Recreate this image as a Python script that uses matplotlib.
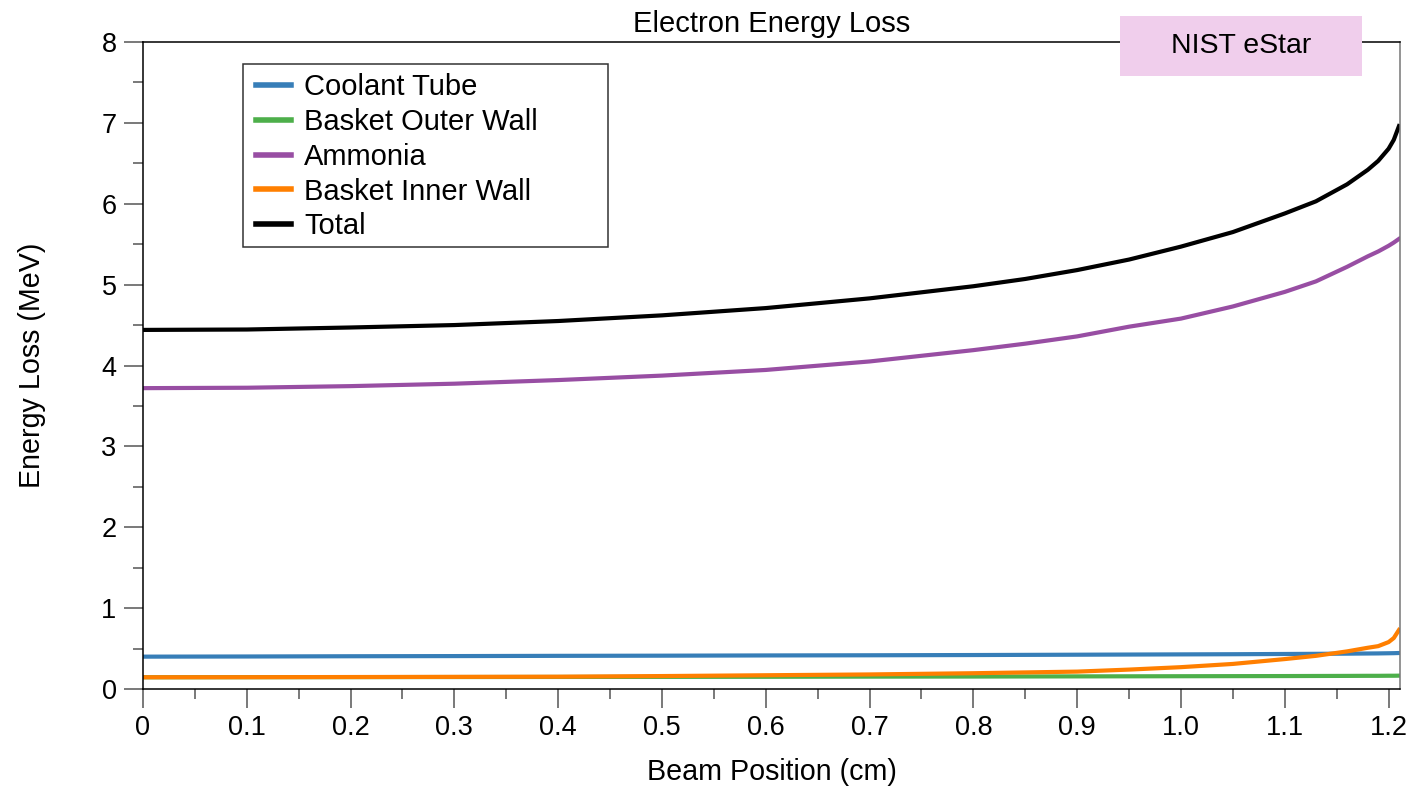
""" ELECTRON ENERGY LOSS
    --------------------
    Energy loss of the electron beam in each target layer (NIST eStar).
"""


# -------------------------------------------------------------------------------
# 0. IMPORT LIBRARIES
# -------------------------------------------------------------------------------


import matplotlib
matplotlib.use('Agg')
import matplotlib.pyplot as plt
from matplotlib.patches import Rectangle
from matplotlib.ticker import MultipleLocator


# -------------------------------------------------------------------------------
# 1. DATA
# -------------------------------------------------------------------------------


position = [0.0, 0.1, 0.2, 0.3, 0.4, 0.5, 0.6, 0.7, 0.8, 0.85, 0.9, 0.95,
            1.0, 1.05, 1.1, 1.13, 1.16, 1.18, 1.19, 1.2, 1.205, 1.21]

coolant_tube = [0.400, 0.402, 0.405, 0.407, 0.410, 0.412, 0.415, 0.417, 0.420, 0.422, 0.424, 0.426,
                0.428, 0.430, 0.433, 0.435, 0.437, 0.439, 0.440, 0.442, 0.443, 0.445]

basket_outer = [0.145, 0.146, 0.147, 0.148, 0.149, 0.150, 0.151, 0.153, 0.154, 0.155, 0.156, 0.157,
                0.158, 0.159, 0.160, 0.161, 0.162, 0.163, 0.163, 0.164, 0.164, 0.165]

ammonia = [3.72, 3.725, 3.745, 3.775, 3.82, 3.875, 3.945, 4.05, 4.19, 4.27, 4.36, 4.48,
           4.58, 4.73, 4.91, 5.04, 5.22, 5.35, 5.41, 5.48, 5.52, 5.565]

basket_inner = [0.145, 0.146, 0.148, 0.150, 0.152, 0.160, 0.170, 0.180, 0.195, 0.205, 0.215, 0.240,
                0.270, 0.310, 0.370, 0.410, 0.465, 0.510, 0.530, 0.580, 0.630, 0.730]

total = [4.44, 4.445, 4.47, 4.50, 4.55, 4.62, 4.71, 4.83, 4.98, 5.07, 5.18, 5.31,
         5.47, 5.65, 5.88, 6.03, 6.24, 6.42, 6.53, 6.68, 6.79, 6.96]

series = [('Coolant Tube', coolant_tube, '#377eb8'),
          ('Basket Outer Wall', basket_outer, '#4daf4a'),
          ('Ammonia', ammonia, '#984ea3'),
          ('Basket Inner Wall', basket_inner, '#ff7f00'),
          ('Total', total, 'black')]


# -------------------------------------------------------------------------------
# 2. PLOT
# -------------------------------------------------------------------------------


plt.rcParams['font.family'] = ['Liberation Sans', 'DejaVu Sans']

W, H = 1412, 787

fig = plt.figure(figsize=(W / 100, H / 100), dpi=100)
ax = fig.add_axes([143 / W, 1 - 689 / H, (1400 - 143) / W, (689 - 42) / H])

for name, values, color in series:
    ax.plot(position, values, color=color, lw=3, label=name, solid_joinstyle='round')

ax.set_xlim(0, 1.211)
ax.set_ylim(0, 8)

ax.xaxis.set_minor_locator(MultipleLocator(0.05))
ax.yaxis.set_major_locator(MultipleLocator(1))
ax.yaxis.set_minor_locator(MultipleLocator(0.5))

x_labels = ['0'] + ['%.1f' % (0.1 * i) for i in range(1, 13)]
ax.set_xticks([0.1 * i for i in range(13)])
ax.set_xticklabels(x_labels)

ax.tick_params(which='major', direction='out', length=14, width=1.1, color='#555555',
               labelsize=19.5, pad=5)
ax.tick_params(which='minor', direction='out', length=7, width=1.1, color='#555555')

for side in ['left', 'bottom', 'top']:
    ax.spines[side].set_color('black')
ax.spines['right'].set_color('#777777')
for sp in ax.spines.values():
    sp.set_linewidth(1.1)

ax.set_xlabel('Beam Position (cm)', fontsize=20.6, labelpad=12)
ax.set_ylabel('Energy Loss (MeV)', fontsize=20.6, labelpad=40)
ax.set_title('Electron Energy Loss', fontsize=21, pad=7)

# legend without its own frame; the box is drawn separately (it is wider than the text)
leg = ax.legend(loc='upper left', bbox_to_anchor=((256 - 143) / 1257, (689 - 73) / 647),
                borderaxespad=0, borderpad=0, frameon=False, fontsize=21,
                handlelength=1.2, handletextpad=0.45, labelspacing=0.235)
for line in leg.get_lines():
    line.set_linewidth(4)

legend_box = Rectangle((243 / W, 1 - 247 / H), (608 - 243) / W, (247 - 64) / H,
                       transform=fig.transFigure, facecolor='white', edgecolor='#333333',
                       lw=1.1, zorder=4.5, clip_on=False)
ax.add_patch(legend_box)
leg.set_zorder(6)

# NIST eStar tag over the top right corner
tag = Rectangle((1120 / W, 1 - 76 / H), 242 / W, 60 / H,
                transform=fig.transFigure, facecolor='#f0ceec', edgecolor='none', zorder=5)
fig.add_artist(tag)
fig.text(1241 / W, 1 - 46 / H, 'NIST eStar', fontsize=20.5, ha='center', va='center', zorder=6)

plt.savefig('out.png', dpi=100)
